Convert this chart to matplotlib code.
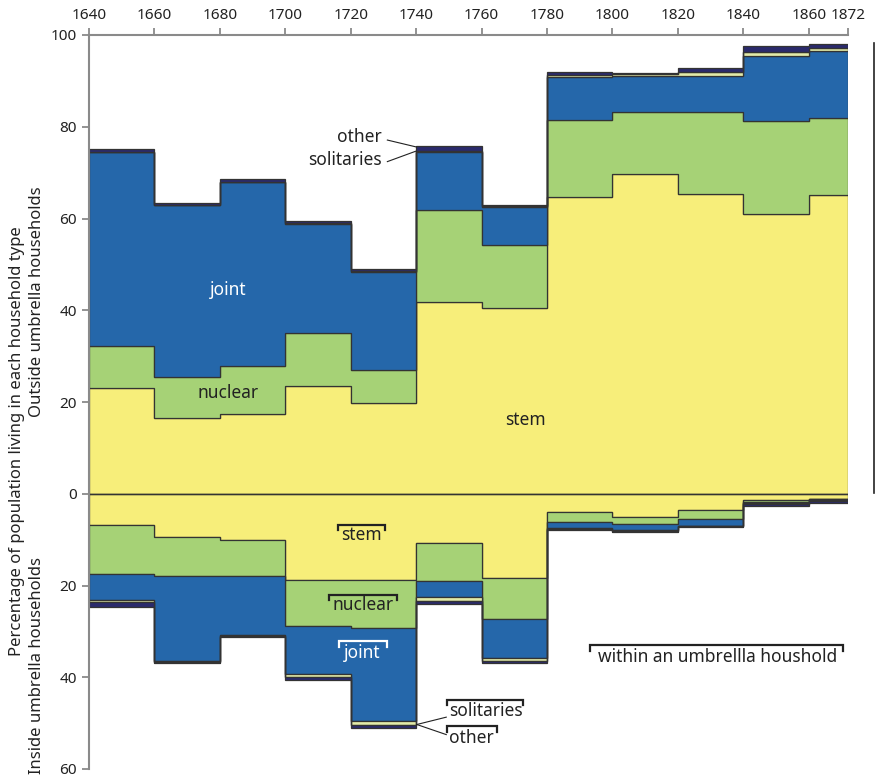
import numpy as np
import matplotlib
matplotlib.use("Agg")
import matplotlib.pyplot as plt
import matplotlib.transforms as mtransforms

plt.rcParams['font.family'] = ['Noto Sans', 'DejaVu Sans']

edges = [1640, 1660, 1680, 1700, 1720, 1740, 1760, 1780, 1800, 1820, 1840, 1860, 1872]
layer_names = ["stem", "nuclear", "joint", "solitaries", "other"]

# outside umbrella households (share of population, %)
out_stem = [23.1, 16.6, 17.4, 23.5, 19.8, 41.8, 40.5, 64.7, 69.7, 65.4, 61.0, 65.1]
out_nuclear = [9.1, 8.9, 10.5, 11.6, 7.2, 20.1, 13.7, 16.8, 13.5, 17.8, 20.3, 16.7]
out_joint = [42.2, 37.4, 40.0, 23.7, 21.4, 12.5, 8.3, 9.3, 7.9, 7.9, 14.1, 14.8]
out_solitaries = [0.2, 0.1, 0.1, 0.2, 0.2, 0.4, 0.2, 0.5, 0.3, 0.8, 1.0, 0.6]
out_other = [0.5, 0.3, 0.6, 0.5, 0.4, 0.9, 0.3, 0.7, 0.4, 0.8, 1.1, 0.8]

# inside umbrella households (drawn downward)
in_stem = [6.8, 9.4, 10.0, 18.7, 18.7, 10.7, 18.4, 4.0, 5.1, 3.6, 1.3, 1.1]
in_nuclear = [10.8, 8.5, 7.9, 10.1, 10.6, 8.3, 8.9, 2.2, 1.5, 1.9, 0.4, 0.1]
in_joint = [5.6, 18.6, 12.9, 10.6, 20.2, 3.4, 8.4, 1.3, 1.4, 1.5, 0.4, 0.1]
in_solitaries = [0.5, 0.1, 0.1, 0.5, 0.9, 1.0, 0.8, 0.1, 0.1, 0.1, 0.1, 0.2]
in_other = [1.0, 0.2, 0.4, 0.6, 0.6, 0.7, 0.4, 0.2, 0.2, 0.2, 0.4, 0.5]

colors = ["#F7EE7A", "#A6D276", "#2567AA", "#E3EAA8", "#2A2A6C"]
edge_col = "#333333"
grey = "#8a8a8a"
txt = "#222222"

fig = plt.figure(figsize=(8.76, 7.8), dpi=100)
ax = fig.add_axes([89/876, 1-769/780, (848-89)/876, (769-35)/780])

outside = [out_stem, out_nuclear, out_joint, out_solitaries, out_other]
inside = [in_stem, in_nuclear, in_joint, in_solitaries, in_other]

base = np.zeros(len(out_stem))
for vals, c in zip(outside, colors):
    top = base + np.array(vals)
    ax.stairs(top, edges, baseline=base, fill=True, facecolor=c,
              edgecolor=edge_col, linewidth=0.9)
    base = top

base = np.zeros(len(in_stem))
for vals, c in zip(inside, colors):
    top = base - np.array(vals)
    ax.stairs(base, edges, baseline=top, fill=True, facecolor=c,
              edgecolor=edge_col, linewidth=0.9)
    base = top

ax.plot([1640, 1872], [0, 0], color=edge_col, lw=1.0)

ax.set_xlim(1640, 1872)
ax.set_ylim(-60, 100)
ax.xaxis.tick_top()
ax.set_xticks(list(range(1640, 1861, 20)) + [1872])
ax.set_xticklabels([str(v) for v in list(range(1640, 1861, 20)) + [1872]])
yt = [-60, -40, -20, 0, 20, 40, 60, 80, 100]
ax.set_yticks(yt)
ax.set_yticklabels([str(abs(v)) for v in yt])
ax.tick_params(axis='both', colors=grey, labelcolor=txt, labelsize=11,
               length=5, width=1.3, direction='out')
for s in ['right', 'bottom']:
    ax.spines[s].set_visible(False)
for s in ['left', 'top']:
    ax.spines[s].set_color(grey)
    ax.spines[s].set_linewidth(1.5)

fs = 12.5
# layer labels
ax.text(1682.5, 44.4, "joint", color='white', fontsize=fs, ha='center', va='center')
ax.text(1682.5, 22.0, "nuclear", color=txt, fontsize=fs, ha='center', va='center')
ax.text(1773.3, 16.1, "stem", color=txt, fontsize=fs, ha='center', va='center')
ax.text(1729.5, 77.7, "other", color=txt, fontsize=fs, ha='right', va='center')
ax.text(1729.5, 72.8, "solitaries", color=txt, fontsize=fs, ha='right', va='center')
ax.plot([1731.2, 1740], [77.1, 75.6], color=txt, lw=0.8)
ax.plot([1731.2, 1740], [72.4, 74.7], color=txt, lw=0.8)


def bracket(x0, x1, y, col):
    ax.plot([x0, x0, x1, x1], [y - 1.2, y, y, y - 1.2], color=col, lw=1.6,
            solid_joinstyle='miter', clip_on=False)


bracket(1716.2, 1730.4, -6.8, txt)
ax.text(1723.3, -9.0, "stem", color=txt, fontsize=fs, ha='center', va='center')
bracket(1713.4, 1734.0, -22.0, txt)
ax.text(1723.7, -24.3, "nuclear", color=txt, fontsize=fs, ha='center', va='center')
bracket(1716.3, 1731.0, -32.2, 'white')
ax.text(1723.6, -34.7, "joint", color='white', fontsize=fs, ha='center', va='center')
bracket(1749.3, 1772.7, -44.9, txt)
ax.text(1750.0, -47.4, "solitaries", color=txt, fontsize=fs, ha='left', va='center')
bracket(1749.3, 1764.6, -50.7, txt)
ax.text(1750.0, -53.2, "other", color=txt, fontsize=fs, ha='left', va='center')
ax.plot([1740.2, 1749.2], [-50.3, -48.7], color=txt, lw=0.8)
ax.plot([1740.2, 1749.2], [-50.3, -52.5], color=txt, lw=0.8)
bracket(1793.2, 1870.5, -33.0, txt)
ax.text(1832.0, -35.5, "within an umbrellla houshold", color=txt, fontsize=fs,
        ha='center', va='center')

# right-hand marker line for the outside block
trans = mtransforms.blended_transform_factory(ax.transAxes, ax.transData)
ax.plot([1.034, 1.034], [98.3, 0.2], color=txt, lw=1.2, transform=trans,
        clip_on=False)

fig.text(17/876, 1-441/780, "Percentage of population living in each household type",
         rotation=90, ha='center', va='center', fontsize=12, color=txt)
fig.text(37/876, 1-302/780, "Outside umbrella households",
         rotation=90, ha='center', va='center', fontsize=12, color=txt)
fig.text(37/876, 1-665/780, "Inside umbrella households",
         rotation=90, ha='center', va='center', fontsize=12, color=txt)

fig.savefig("out.png", dpi=100)
